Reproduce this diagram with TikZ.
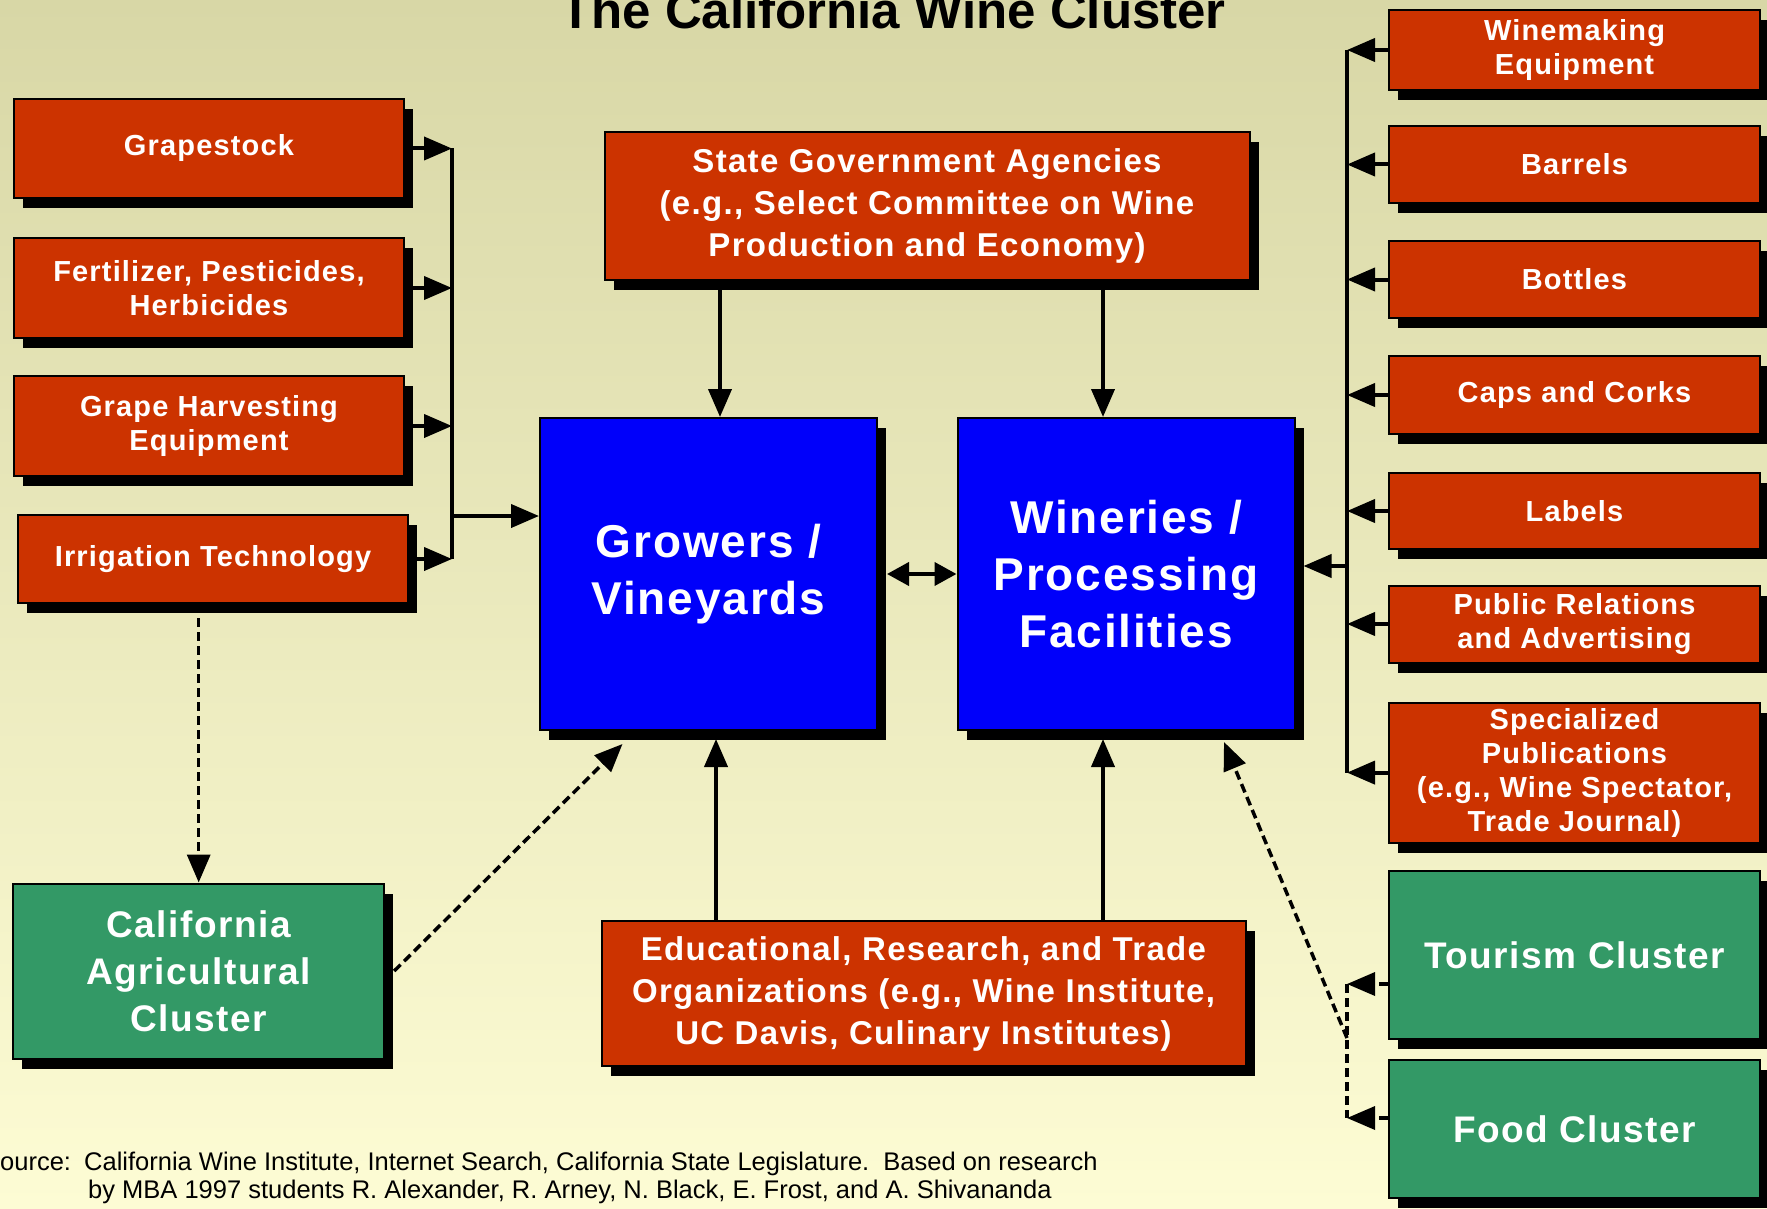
\documentclass[tikz,border=0pt]{standalone}
\usepackage{fontspec}
\setmainfont{Liberation Sans}
\newfontfamily\boxfont{Liberation Sans}[LetterSpace=4]
\usetikzlibrary{arrows.meta,shadows}
\definecolor{boxred}{RGB}{204,51,0}
\definecolor{boxblue}{RGB}{0,0,250}
\definecolor{boxgreen}{RGB}{51,153,102}
\definecolor{bgtop}{RGB}{216,215,166}
\definecolor{bgbottom}{RGB}{253,252,212}

\begin{document}
\begin{tikzpicture}[x=1pt,y=-1pt,
  box/.style={rectangle,draw=black,line width=2pt,inner sep=0pt,align=center,text=white,
    drop shadow={shadow xshift=9pt,shadow yshift=-10pt,opacity=1,fill=black}},
  redbox/.style={box,fill=boxred,font=\boxfont\bfseries\fontsize{29}{34}\selectfont},
  bigred/.style={box,fill=boxred,font=\boxfont\bfseries\fontsize{33}{42}\selectfont},
  bluebox/.style={box,fill=boxblue,minimum width=337pt,minimum height=312pt,
    font=\boxfont\bfseries\fontsize{46}{57}\selectfont},
  greenbox/.style={box,fill=boxgreen,font=\boxfont\bfseries\fontsize{37}{47}\selectfont},
  arr/.style={line width=4pt,-{Triangle[length=28pt,width=23pt]}},
  darr/.style={arr,line width=3.5pt,dash pattern=on 9pt off 5pt},
  bus/.style={line width=4pt},
  dbus/.style={line width=3.5pt,dash pattern=on 9pt off 5pt}]
\shade[top color=bgtop,bottom color=bgbottom] (0,0) rectangle (1767,1209);
\useasboundingbox (0,0) rectangle (1767,1209);

\node[anchor=base,font=\bfseries\fontsize{51}{60}\selectfont] (18) at (893,29) {The California Wine Cluster};

% suppliers to the growers
\node[redbox,minimum width=390pt,minimum height=99pt] (0) at (209,148.5) {Grapestock};
\node[redbox,minimum width=390pt,minimum height=99pt] (1) at (209,288) {Fertilizer, Pesticides,\\Herbicides};
\node[redbox,minimum width=390pt,minimum height=100pt] (2) at (209,426) {Grape Harvesting\\Equipment};
\node[redbox,minimum width=390pt,minimum height=88pt] (3) at (213,559) {Irrigation Technology};

\node[bigred,minimum width=645pt,minimum height=147pt] (4) at (927,206) {State Government Agencies\\(e.g., Select Committee on Wine\\Production and Economy)};
\node[bluebox] (5) at (708.5,574) {Growers /\\Vineyards};
\node[bluebox] (6) at (1126,574) {Wineries /\\Processing\\Facilities};
\node[bigred,minimum width=644pt,minimum height=145pt] (7) at (923.5,993.5) {Educational, Research, and Trade\\Organizations (e.g., Wine Institute,\\UC Davis, Culinary Institutes)};

% suppliers to the wineries
\node[redbox,minimum width=371pt,minimum height=80pt] (8) at (1574.5,50) {Winemaking\\Equipment};
\node[redbox,minimum width=371pt,minimum height=77pt] (9) at (1574.5,164.5) {Barrels};
\node[redbox,minimum width=371pt,minimum height=77pt] (10) at (1574.5,279.5) {Bottles};
\node[redbox,minimum width=371pt,minimum height=78pt] (11) at (1574.5,395) {Caps and Corks};
\node[redbox,minimum width=371pt,minimum height=76pt] (12) at (1574.5,511) {Labels};
\node[redbox,minimum width=371pt,minimum height=77pt] (13) at (1574.5,624) {Public Relations\\and Advertising};
\node[redbox,minimum width=371pt,minimum height=140pt] (14) at (1574.5,772.6) {Specialized\\Publications\\(e.g., Wine Spectator,\\Trade Journal)};

\node[greenbox,minimum width=371pt,minimum height=168pt] (15) at (1574.5,955) {Tourism Cluster};
\node[greenbox,minimum width=371pt,minimum height=138pt] (16) at (1574.5,1129) {Food Cluster};
\node[greenbox,minimum width=371pt,minimum height=175pt] (17) at (198.7,971) {California\\Agricultural\\Cluster};

\node[anchor=base west,align=left,inner sep=0pt,font=\fontsize{25.5}{28}\selectfont] (19) at (-17,1198)
  {\makebox[101pt][l]{Source:}California Wine Institute, Internet Search, California State Legislature.\ \ Based on research\\
   \hspace*{105pt}by MBA 1997 students R. Alexander, R. Arney, N. Black, E. Frost, and A. Shivananda};

\coordinate (lb) at (452,516);
\coordinate (rb) at (1347,566);
\coordinate (rj) at (1347,1038);
\coordinate (t1) at ([yshift=-29pt]15.west);
\coordinate (f1) at ([yshift=11pt]16.west);

\foreach \i in {0,...,3} \draw[arr] (\i.east) -- (\i.east -| lb);
\draw[bus] (0.east -| lb) -- (3.east -| lb);
\draw[arr] (lb) -- (lb -| 5.west);

\draw[arr] (4.south -| 720,0) -- (5.north -| 720,0);
\draw[arr] (4.south -| 1103,0) -- (6.north -| 1103,0);
\draw[arr] (7.north -| 716,0) -- ([yshift=-8pt]5.south -| 716,0);
\draw[arr] (7.north -| 1103,0) -- ([yshift=-8pt]6.south -| 1103,0);
\draw[line width=4pt,{Triangle[length=22pt,width=23pt]}-{Triangle[length=22pt,width=23pt]}] ([xshift=9pt]5.east) -- (6.west);

\foreach \i in {8,...,14} \draw[arr] (\i.west) -- (\i.west -| rb);
\draw[bus] (8.west -| rb) -- (14.west -| rb);
\draw[arr,shorten >=8pt] (rb) -- (rb -| 6.east);

\draw[darr] (t1) -- (t1 -| rb);
\draw[darr] (f1) -- (f1 -| rb);
\draw[dbus] (t1 -| rb) -- (f1 -| rb);
\draw[darr] (rj) -- ([xshift=98pt,yshift=-11pt]6.south);

\draw[darr] (3.south -| 17.north) -- (17.north);
\draw[darr] ([xshift=9pt]17.east) -- ([xshift=-86pt,yshift=-13pt]5.south);
\end{tikzpicture}
\end{document}
